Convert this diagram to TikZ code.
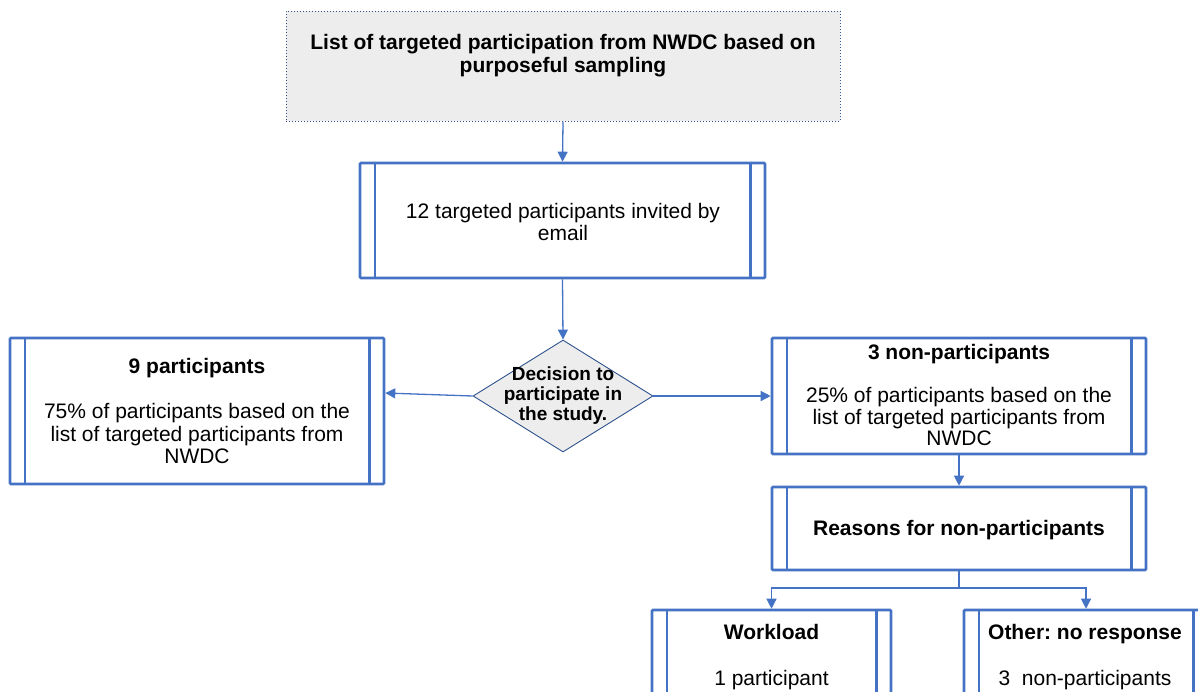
\documentclass[tikz,border=0pt]{standalone}
\usepackage{fontspec}
\setmainfont{Liberation Sans}
\usetikzlibrary{arrows.meta,shapes.geometric,calc}
\definecolor{bl}{HTML}{4472C4}
\definecolor{dbl}{HTML}{2F528F}
\definecolor{gr}{HTML}{EDEDED}
\newcommand\pinner[1]{%
  \draw[bl, line width=2.4pt] ($(#1.north west)+(16,0)$) -- ($(#1.south west)+(16,0)$);
  \draw[bl, line width=2.4pt] ($(#1.north east)+(-16,0)$) -- ($(#1.south east)+(-16,0)$);}
\begin{document}
\frenchspacing
\begin{tikzpicture}[x=1pt,y=-1pt,
  pbox/.style={draw=bl, line width=2.6pt, rectangle, inner sep=0pt, rounded corners=1pt},
  conn/.style={draw=bl, line width=1.3pt, -{Triangle[length=10pt,width=10pt]}},
  txt/.style={font=\fontsize{21}{22.5}\selectfont, align=center, inner sep=0pt},
  btxt/.style={font=\fontsize{21}{23}\selectfont\bfseries, align=center, inner sep=0pt}]
\useasboundingbox (0,0) rectangle (1198,691);

% top box
\node[draw=dbl, dotted, line width=1pt, fill=gr, minimum width=554pt, minimum height=110pt, inner sep=0pt] (top) at (563,66) {};
\node[btxt] (toptxt) at (563,56) {List of targeted participation from NWDC based on\\purposeful sampling};

% invited box
\node[pbox, minimum width=405pt, minimum height=115pt] (inv) at (562.5,220.5) {};
\pinner{inv}
\node[txt] (invtxt) at (563,222) {12 targeted participants invited by\\email};

% decision
\node[diamond, draw=dbl, fill=gr, line width=0.9pt, minimum width=180pt, minimum height=112pt, inner sep=0pt] (dec) at (563,396) {};
\node[font=\fontsize{19}{20}\selectfont\bfseries, align=center, inner sep=0pt] (dectxt) at (563,396) {Decision to\\participate in\\the study.};

% left box
\node[pbox, minimum width=374pt, minimum height=146pt] (left) at (197,411) {};
\pinner{left}
\node[txt] (lefttxt) at (197,411) {\textbf{9 participants}\\[22.5pt]75\% of participants based on the\\list of targeted participants from\\NWDC};

% right box
\node[pbox, minimum width=374pt, minimum height=116pt] (right) at (959,396) {};
\pinner{right}
\node[txt, font=\fontsize{21}{21.5}\selectfont] (righttxt) at (959,395) {\textbf{3 non-participants}\\[21.5pt]25\% of participants based on the\\list of targeted participants from\\NWDC};

% reasons box
\node[pbox, minimum width=374pt, minimum height=83pt] (reasons) at (959,528.5) {};
\pinner{reasons}
\node[btxt] (reasonstxt) at (959,530) {Reasons for non-participants};

% workload box
\node[pbox, minimum width=239pt, minimum height=110pt] (work) at (771.5,665) {};
\pinner{work}
\node[txt, font=\fontsize{21}{23}\selectfont] (worktxt) at (771.5,657) {\textbf{Workload}\\[23pt]1 participant};

% other box
\node[pbox, minimum width=244pt, minimum height=110pt] (other) at (1086,665) {};
\pinner{other}
\node[txt, font=\fontsize{21}{23}\selectfont] (othertxt) at (1085,657) {\textbf{Other: no response}\\[23pt]3~~non-participants};

% connectors
\draw[conn] (top.south) -- (inv.north);
\draw[conn] (inv.south) -- (dec.north);
\draw[conn] (dec.west) -- ([yshift=18pt]left.east);
\draw[conn] (dec.east) -- (right.west);
\draw[conn] (right.south) -- (reasons.north);
\coordinate (br) at (959,588);
\draw[bl, line width=1.3pt] (reasons.south) -- (br);
\draw[conn] (br) -| (work.north);
\draw[conn] (br) -| (other.north);
\end{tikzpicture}
\end{document}
